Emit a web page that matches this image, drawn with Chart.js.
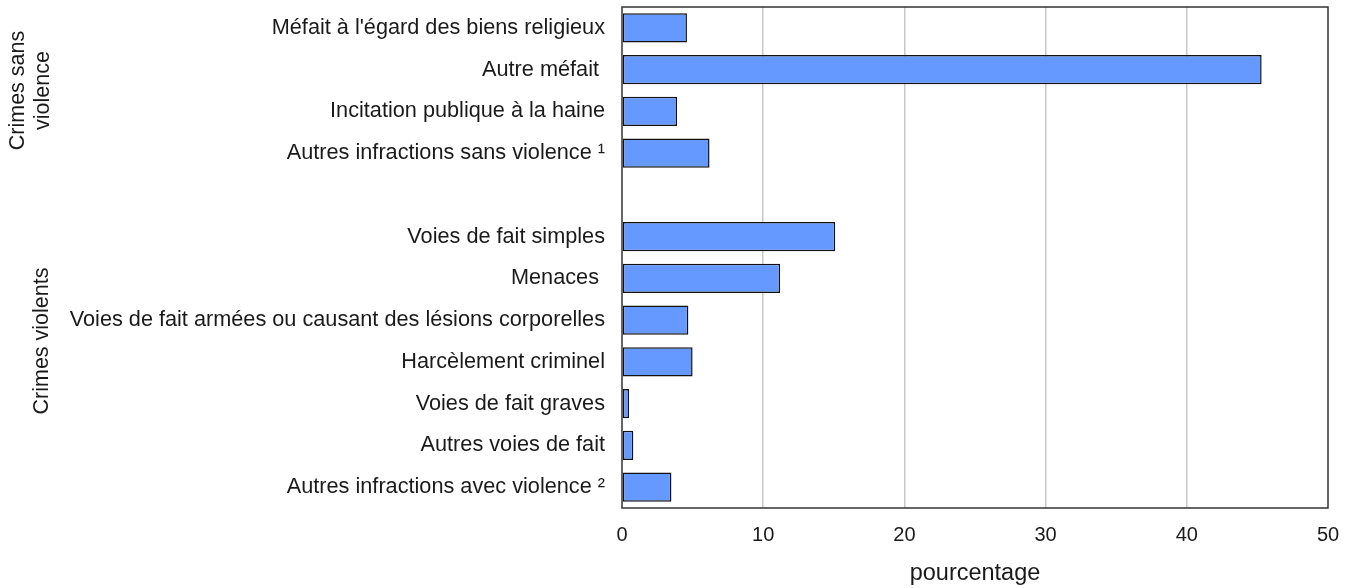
<!DOCTYPE html>
<html>
<head>
<meta charset="utf-8">
<script src="https://cdn.jsdelivr.net/npm/chart.js@4.4.1/dist/chart.umd.min.js"></script>
<style>
  html, body { margin: 0; padding: 0; background: #ffffff; }
  #wrap { width: 1348px; height: 588px; }
</style>
</head>
<body>
<div id="wrap"><canvas id="chart" width="1348" height="588"></canvas></div>
<script>
// Categories (blank entry separates the two groups)
const categories = [
    "Méfait à l'égard des biens religieux",
    'Autre méfait ',
    'Incitation publique à la haine',
    'Autres infractions sans violence ¹',
    '',
    'Voies de fait simples',
    'Menaces ',
    'Voies de fait armées ou causant des lésions corporelles',
    'Harcèlement criminel',
    'Voies de fait graves',
    'Autres voies de fait',
    'Autres infractions avec violence ²'
];

// Percentages
const values = [4.6, 45.3, 3.9, 6.2, null, 15.1, 11.2, 4.7, 5.0, 0.5, 0.8, 3.5];

const xTicks = [0, 10, 20, 30, 40, 50];

// Group labels on the far left: [lines, first row, last row]
const groupLabels = [
    [['Crimes sans', 'violence'], 0, 3],
    [['Crimes violents'], 4, 11]
];

const FONT = "'Liberation Sans', Arial, sans-serif";

// Draws the box around the plot and the rotated group labels
const framePlugin = {
    id: 'frame',
    afterDraw(chart) {
        const { ctx, chartArea: a, scales } = chart;
        ctx.save();
        ctx.strokeStyle = '#333333';
        ctx.lineWidth = 1.5;
        ctx.strokeRect(a.left, a.top, a.right - a.left, a.bottom - a.top);

        ctx.fillStyle = '#1a1a1a';
        ctx.font = '21.5px ' + FONT;
        ctx.textAlign = 'center';
        ctx.textBaseline = 'middle';
        groupLabels.forEach(([lines, i0, i1]) => {
            const y = (scales.y.getPixelForValue(i0 - 0.5) + scales.y.getPixelForValue(i1 + 0.5)) / 2;
            const lh = 25;
            const x0 = lines.length > 1 ? 18 : 42;
            ctx.save();
            ctx.translate(x0, y);
            ctx.rotate(-Math.PI / 2);
            lines.forEach((t, k) => {
                ctx.fillText(t, 0, k * lh);
            });
            ctx.restore();
        });
        ctx.restore();
    }
};

new Chart(document.getElementById('chart'), {
    type: 'bar',
    data: {
        labels: categories,
        datasets: [{
            data: values,
            backgroundColor: '#6699ff',
            borderColor: '#111111',
            borderWidth: 1.5,
            borderSkipped: false,
            barPercentage: 0.7,
            categoryPercentage: 1.0
        }]
    },
    options: {
        indexAxis: 'y',
        responsive: false,
        animation: false,
        layout: { padding: { top: 7, right: 20, left: 0, bottom: 0 } },
        plugins: {
            legend: { display: false },
            tooltip: { enabled: false }
        },
        scales: {
            x: {
                min: 0,
                max: 50,
                afterBuildTicks(scale) {
                    scale.ticks = xTicks.map(v => ({ value: v }));
                },
                afterFit(scale) {
                    scale.height = 80;
                    scale.paddingLeft = 0;
                    scale.paddingRight = 0;
                },
                grid: {
                    color: (c) => (c.tick && (c.tick.value === 0 || c.tick.value === 50)) ? 'rgba(0,0,0,0)' : '#c8c8c8',
                    lineWidth: 1.5,
                    drawTicks: false
                },
                border: { display: false },
                ticks: {
                    color: '#1a1a1a',
                    font: { family: FONT, size: 20 },
                    padding: 15,
                    maxRotation: 0
                },
                title: {
                    display: true,
                    text: 'pourcentage',
                    color: '#1a1a1a',
                    font: { family: FONT, size: 23.5 },
                    padding: { top: 12, bottom: 0 }
                }
            },
            y: {
                afterFit(scale) {
                    scale.width = 622;
                    scale.paddingTop = 0;
                    scale.paddingBottom = 0;
                },
                grid: { display: false, drawTicks: false },
                border: { display: false },
                ticks: {
                    color: '#1a1a1a',
                    font: { family: FONT, size: 21.7 },
                    padding: 17,
                    autoSkip: false
                }
            }
        }
    },
    plugins: [framePlugin]
});
</script>
</body>
</html>
